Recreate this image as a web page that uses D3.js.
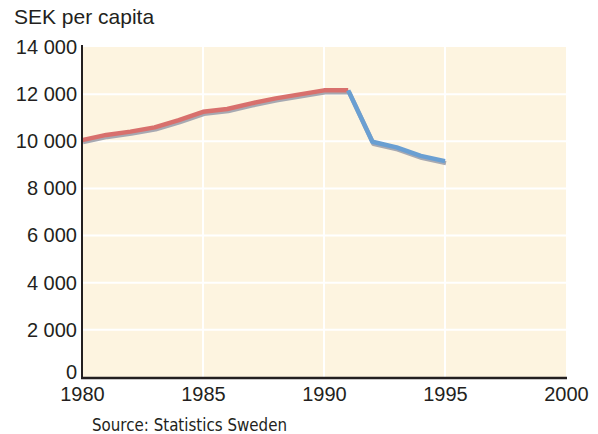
<!DOCTYPE html>
<html>
<head>
<meta charset="utf-8">
<script src="https://cdn.jsdelivr.net/npm/d3@7"></script>
<style>
  body { margin: 0; background: #fff; }
  svg { display: block; }
</style>
</head>
<body>
<div id="chart"></div>
<script>
// years and SEK per capita
var years = [1980, 1981, 1982, 1983, 1984, 1985, 1986, 1987, 1988, 1989, 1990, 1991, 1992, 1993, 1994, 1995];
var values = [10050, 10270, 10410, 10590, 10900, 11250, 11370, 11610, 11820, 11990, 12160, 12160, 9980, 9740, 9380, 9160];
var splitYear = 1991; // red up to here, blue after
var yTicks = [0, 2000, 4000, 6000, 8000, 10000, 12000, 14000];
var xTicks = [1980, 1985, 1990, 1995, 2000];

var width = 598, height = 434;

var svg = d3.select("#chart").append("svg")
  .attr("width", width)
  .attr("height", height);

var x = d3.scaleLinear().domain([1980, 2000]).range([82, 566]);
var y = d3.scaleLinear().domain([0, 14000]).range([377, 47]);

var data = years.map(function(d, i) { return { year: d, value: values[i] }; });

// plot background
svg.append("rect")
  .attr("x", x(1980))
  .attr("y", y(14000))
  .attr("width", x(2000) - x(1980))
  .attr("height", y(0) - y(14000))
  .attr("fill", "#fdf4e0");

// white grid lines
svg.append("g")
  .selectAll("line")
  .data(yTicks.filter(function(d) { return d > 0 && d < 14000; }))
  .enter().append("line")
    .attr("x1", x(1980)).attr("x2", x(2000))
    .attr("y1", function(d) { return y(d); })
    .attr("y2", function(d) { return y(d); })
    .attr("stroke", "#fff")
    .attr("stroke-width", 2);

svg.append("g")
  .selectAll("line")
  .data(xTicks.filter(function(d) { return d > 1980 && d < 2000; }))
  .enter().append("line")
    .attr("x1", function(d) { return x(d); })
    .attr("x2", function(d) { return x(d); })
    .attr("y1", y(14000)).attr("y2", y(0))
    .attr("stroke", "#fff")
    .attr("stroke-width", 2);

// lines with grey shadow
var line = d3.line()
  .x(function(d) { return x(d.year); })
  .y(function(d) { return y(d.value); });

var first = data.filter(function(d) { return d.year <= splitYear; });
var second = data.filter(function(d) { return d.year >= splitYear; });

var shadow = svg.append("g").attr("transform", "translate(1,2)");
[first, second].forEach(function(seg) {
  shadow.append("path")
    .attr("d", line(seg))
    .attr("fill", "none")
    .attr("stroke", "#a7a9b2")
    .attr("stroke-width", 4.5)
    .attr("stroke-linejoin", "round");
});

svg.append("path")
  .attr("d", line(first))
  .attr("fill", "none")
  .attr("stroke", "#d8706d")
  .attr("stroke-width", 4.5)
  .attr("stroke-linejoin", "round");

svg.append("path")
  .attr("d", line(second))
  .attr("fill", "none")
  .attr("stroke", "#6a9fd2")
  .attr("stroke-width", 4.5)
  .attr("stroke-linejoin", "round");

// axes
var fmt = function(d) { return d3.format(",")(d).replace(",", " "); };

var yAxis = svg.append("g")
  .attr("transform", "translate(" + x(1980) + ",0)")
  .call(d3.axisLeft(y).tickValues(yTicks).tickSize(0).tickPadding(5).tickFormat(fmt));
yAxis.select(".domain").remove();
yAxis.selectAll("text")
  .attr("font-family", "'Liberation Sans', Arial, sans-serif")
  .attr("font-size", 20)
  .attr("fill", "#231f20");
// the zero sits on the axis line, lifted clear of the year labels
yAxis.selectAll(".tick text")
  .filter(function(d) { return d === 0; })
  .attr("dy", "0")
  .attr("y", 1);

var xAxis = svg.append("g")
  .attr("transform", "translate(0," + y(0) + ")")
  .call(d3.axisBottom(x).tickValues(xTicks).tickSize(0).tickPadding(10).tickFormat(d3.format("d")));
xAxis.select(".domain").remove();
xAxis.selectAll("text")
  .attr("font-family", "'Liberation Sans', Arial, sans-serif")
  .attr("font-size", 20)
  .attr("fill", "#231f20");

// axis lines
svg.append("line")
  .attr("x1", x(1980)).attr("x2", x(1980))
  .attr("y1", y(14000) - 2).attr("y2", y(0) + 1)
  .attr("stroke", "#231f20")
  .attr("stroke-width", 2);

svg.append("line")
  .attr("x1", x(1980) - 1).attr("x2", x(2000) + 1)
  .attr("y1", y(0) + 1).attr("y2", y(0) + 1)
  .attr("stroke", "#231f20")
  .attr("stroke-width", 2.5);

// title and source
svg.append("text")
  .attr("x", 14)
  .attr("y", 24)
  .attr("font-family", "'Liberation Sans', Arial, sans-serif")
  .attr("font-size", 21)
  .attr("fill", "#231f20")
  .text("SEK per capita");

svg.append("text")
  .attr("x", 92)
  .attr("y", 431)
  .attr("font-family", "'DejaVu Sans Condensed', 'Liberation Sans Narrow', sans-serif")
  .attr("font-size", 18)
  .attr("textLength", 195)
  .attr("lengthAdjust", "spacingAndGlyphs")
  .attr("fill", "#231f20")
  .text("Source: Statistics Sweden");
</script>
</body>
</html>
